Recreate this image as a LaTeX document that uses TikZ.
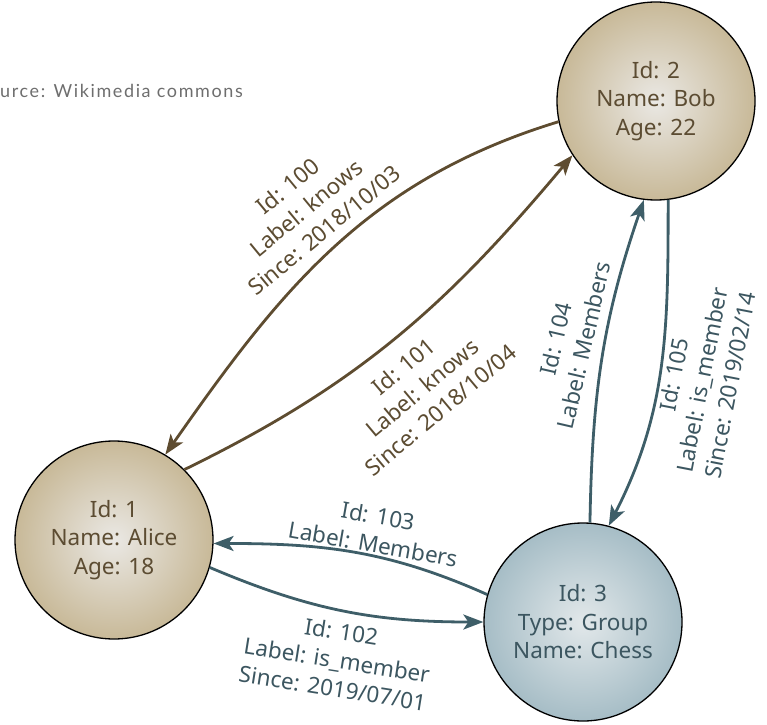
\documentclass[tikz,border=0pt]{standalone}
\usepackage{fontspec}
\setmainfont{Noto Sans}
\newfontfamily\srcfont[LetterSpace=9]{Lato}
\usetikzlibrary{arrows.meta}
\definecolor{tanout}{RGB}{200,185,152}
\definecolor{tanin}{RGB}{234,232,228}
\definecolor{bluout}{RGB}{166,189,198}
\definecolor{bluin}{RGB}{226,232,234}
\definecolor{browntxt}{RGB}{92,76,50}
\definecolor{tealtxt}{RGB}{60,86,96}
\definecolor{brownline}{RGB}{94,76,48}
\definecolor{tealline}{RGB}{62,94,104}
\definecolor{srcgray}{RGB}{110,110,110}
\tikzset{
  ent/.style={circle, minimum size=198pt, inner sep=0pt, draw=black, line width=1.3pt,
    shading=radial, align=center, font=\fontsize{22.5}{28.5}\selectfont},
  person/.style={ent, inner color=tanin, outer color=tanout, text=browntxt},
  group/.style={ent, inner color=bluin, outer color=bluout, text=tealtxt},
  brownedge/.style={draw=brownline, line width=2.8pt, -{Stealth[length=20pt,width=15pt,inset=5pt]}},
  tealedge/.style={draw=tealline, line width=2.8pt, -{Stealth[length=20pt,width=15pt,inset=5pt]}},
  elabel/.style={align=center, inner sep=0pt, font=\fontsize{22.5}{28.5}\selectfont},
  blabel/.style={elabel, text=browntxt},
  tlabel/.style={elabel, text=tealtxt}
}
\begin{document}
\begin{tikzpicture}[x=1pt,y=1pt]
\useasboundingbox (0,0) rectangle (767,724);
\node[anchor=base west, inner sep=0pt, text=srcgray, font=\srcfont\fontsize{18}{20}\selectfont] (src) at (0,626) {urce: Wikimedia commons};
\node[person] (bob) at (656,623) {Id: 2\\Name: Bob\\Age: 22};
\node[person] (alice) at (114,184) {Id: 1\\Name: Alice\\Age: 18};
\node[group] (chess) at (583,102) {Id: 3\\Type: Group\\Name: Chess};
% edges
\draw[brownedge] (bob.192) to[out=197,in=55] (alice.59);
\draw[brownedge] (alice.45) to[out=26,in=230] (bob.213);
\draw[tealedge] (chess.86) to[out=89,in=251] (bob.263);
\draw[tealedge] (bob.277) to[out=270,in=63] (chess.75);
\draw[tealedge] (chess.164) to[out=156,in=0] (alice.358);
\draw[tealedge] (alice.344) to[out=-23,in=180] (chess.180);
% labels
\node[blabel, rotate=39.5] (l100) at (306,516) {Id: 100\\Label: knows\\Since: 2018/10/03};
\node[blabel, rotate=40] (l101) at (422,336) {Id: 101\\Label: knows\\Since: 2018/10/04};
\node[tlabel, rotate=77] (l104) at (570,382) {Id: 104\\Label: Members};
\node[tlabel, rotate=79] (l105) at (702,344) {Id: 105\\Label: is\_member\\Since: 2019/02/14};
\node[tlabel, rotate=-10] (l103) at (376,194) {Id: 103\\Label: Members};
\node[tlabel, rotate=-9] (l102) at (337,64) {Id: 102\\Label: is\_member\\Since: 2019/07/01};
\end{tikzpicture}
\end{document}
